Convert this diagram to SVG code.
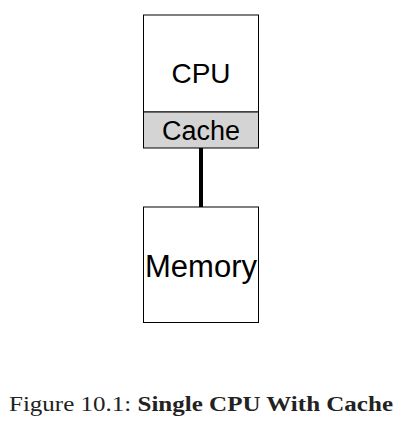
<svg xmlns="http://www.w3.org/2000/svg" width="407" height="430" viewBox="0 0 407 430">
<style>
.box{fill:#fff;stroke:#000;stroke-width:1}
.cache{fill:#d4d4d4;stroke:#000;stroke-width:1}
.lbl{font-family:"Liberation Sans",Arial,sans-serif;fill:#000;text-anchor:middle}
.cap{font-family:"Liberation Serif","Times New Roman",serif;font-size:20.5px;fill:#222}
</style>
<rect width="407" height="430" fill="#fff"/>
<g id="connectors">
<line x1="201" y1="148" x2="201" y2="207" stroke="#000" stroke-width="4"/>
</g>
<g id="cpu">
<rect class="box" x="143.5" y="15" width="115" height="97"/>
<text class="lbl" x="201" y="83" font-size="28">CPU</text>
</g>
<g id="cache">
<rect class="cache" x="143.5" y="112" width="115" height="36"/>
<text class="lbl" x="201" y="140" font-size="27">Cache</text>
</g>
<g id="memory">
<rect class="box" x="143.5" y="207" width="115" height="115.5"/>
<text class="lbl" x="201" y="277" font-size="31">Memory</text>
</g>
<text class="cap" x="9" y="411" textLength="384" lengthAdjust="spacingAndGlyphs">Figure 10.1: <tspan font-weight="bold">Single CPU With Cache</tspan></text>
</svg>
